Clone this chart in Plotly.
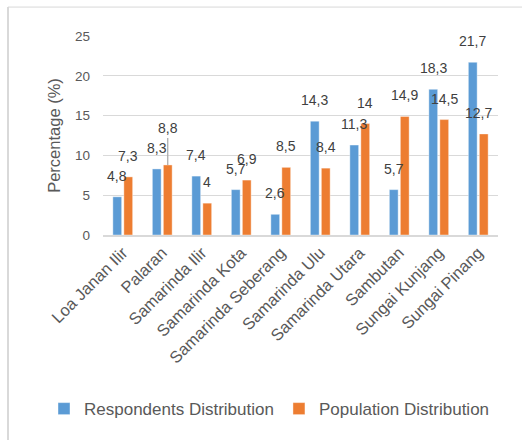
import plotly.graph_objects as go

categories = ["Loa Janan Ilir", "Palaran", "Samarinda Ilir", "Samarinda Kota",
              "Samarinda Seberang", "Samarinda Ulu", "Samarinda Utara", "Sambutan",
              "Sungai Kunjang", "Sungai Pinang"]
respondents = [4.8, 8.3, 7.4, 5.7, 2.6, 14.3, 11.3, 5.7, 18.3, 21.7]
population = [7.3, 8.8, 4, 6.9, 8.5, 8.4, 14, 14.9, 14.5, 12.7]
y_ticks = [0, 5, 10, 15, 20, 25]

BLUE = "#5B9BD5"
ORANGE = "#ED7D31"
TXT = "#595959"
FONT = "Liberation Sans, Arial, sans-serif"

fig = go.Figure()
fig.add_trace(go.Bar(name="Respondents Distribution", x=categories, y=respondents,
                     marker=dict(color=BLUE, line=dict(color="rgba(255,255,255,0.5)", width=0.8))))
fig.add_trace(go.Bar(name="Population Distribution", x=categories, y=population,
                     marker=dict(color=ORANGE, line=dict(color="rgba(255,255,255,0.5)", width=0.8))))

def fmt(v):
    return f"{v:g}".replace(".", ",")

annotations = []
half = 5.5  # pixel offset of each bar from category center
for series_idx, vals in enumerate([respondents, population]):
    xs = -half if series_idx == 0 else half
    for i, v in enumerate(vals):
        if series_idx == 1 and i == 1:
            # leader-line label
            annotations.append(dict(x=categories[i], y=v, xref="x", yref="y", text=fmt(v),
                                    showarrow=True, arrowhead=0, arrowwidth=1.2,
                                    arrowcolor="#a6a6a6", ax=0, ay=-36.5, xshift=xs,
                                    standoff=0,
                                    font=dict(family=FONT, size=14, color="#404040")))
            continue
        extra = -5 if (series_idx == 1 and i == 9) else 0
        annotations.append(dict(x=categories[i], y=v, xref="x", yref="y", text=fmt(v),
                                showarrow=False, xshift=xs + extra, yshift=21,
                                yanchor="middle", xanchor="center",
                                font=dict(family=FONT, size=14, color="#404040")))

frame_x = (8 - 103) / 395
frame_y = (235.5 - 7) / 199.5
shapes = [
    dict(type="line", xref="paper", yref="paper", x0=frame_x, x1=frame_x, y0=-1.5, y1=frame_y,
         line=dict(color="#d9d9d9", width=2)),
    dict(type="line", xref="paper", yref="paper", x0=frame_x, x1=1.2, y0=frame_y, y1=frame_y,
         line=dict(color="#d9d9d9", width=1)),
]

fig.update_layout(
    width=522, height=440,
    margin=dict(l=103, r=24, t=36, b=204.5, autoexpand=False),
    paper_bgcolor="white", plot_bgcolor="white",
    barmode="group", bargap=0.443, bargroupgap=0.2,
    font=dict(family=FONT, color=TXT),
    showlegend=True,
    legend=dict(orientation="h", xref="paper", yref="paper",
                x=(44 - 103) / 395, y=(235.5 - 410) / 199.5, xanchor="left", yanchor="middle",
                font=dict(family=FONT, size=17, color=TXT), itemwidth=30,
                traceorder="normal"),
    annotations=annotations,
    shapes=shapes,
    xaxis=dict(tickangle=-45, tickfont=dict(family=FONT, size=16.5, color=TXT),
               showgrid=False, showline=True, linecolor="#d9d9d9", linewidth=1.5,
               ticks="", zeroline=False, fixedrange=True),
    yaxis=dict(range=[0, 25], tickvals=y_ticks, tickfont=dict(family=FONT, size=13.5, color=TXT),
               showgrid=True, gridcolor="#d9d9d9", gridwidth=1, zeroline=False,
               showline=False, ticks="", ticklabelstandoff=12,
               title=dict(text="Percentage (%)", font=dict(family=FONT, size=16.5, color=TXT),
                          standoff=10)),
)

fig.write_html("out.html", config={"displayModeBar": False})
